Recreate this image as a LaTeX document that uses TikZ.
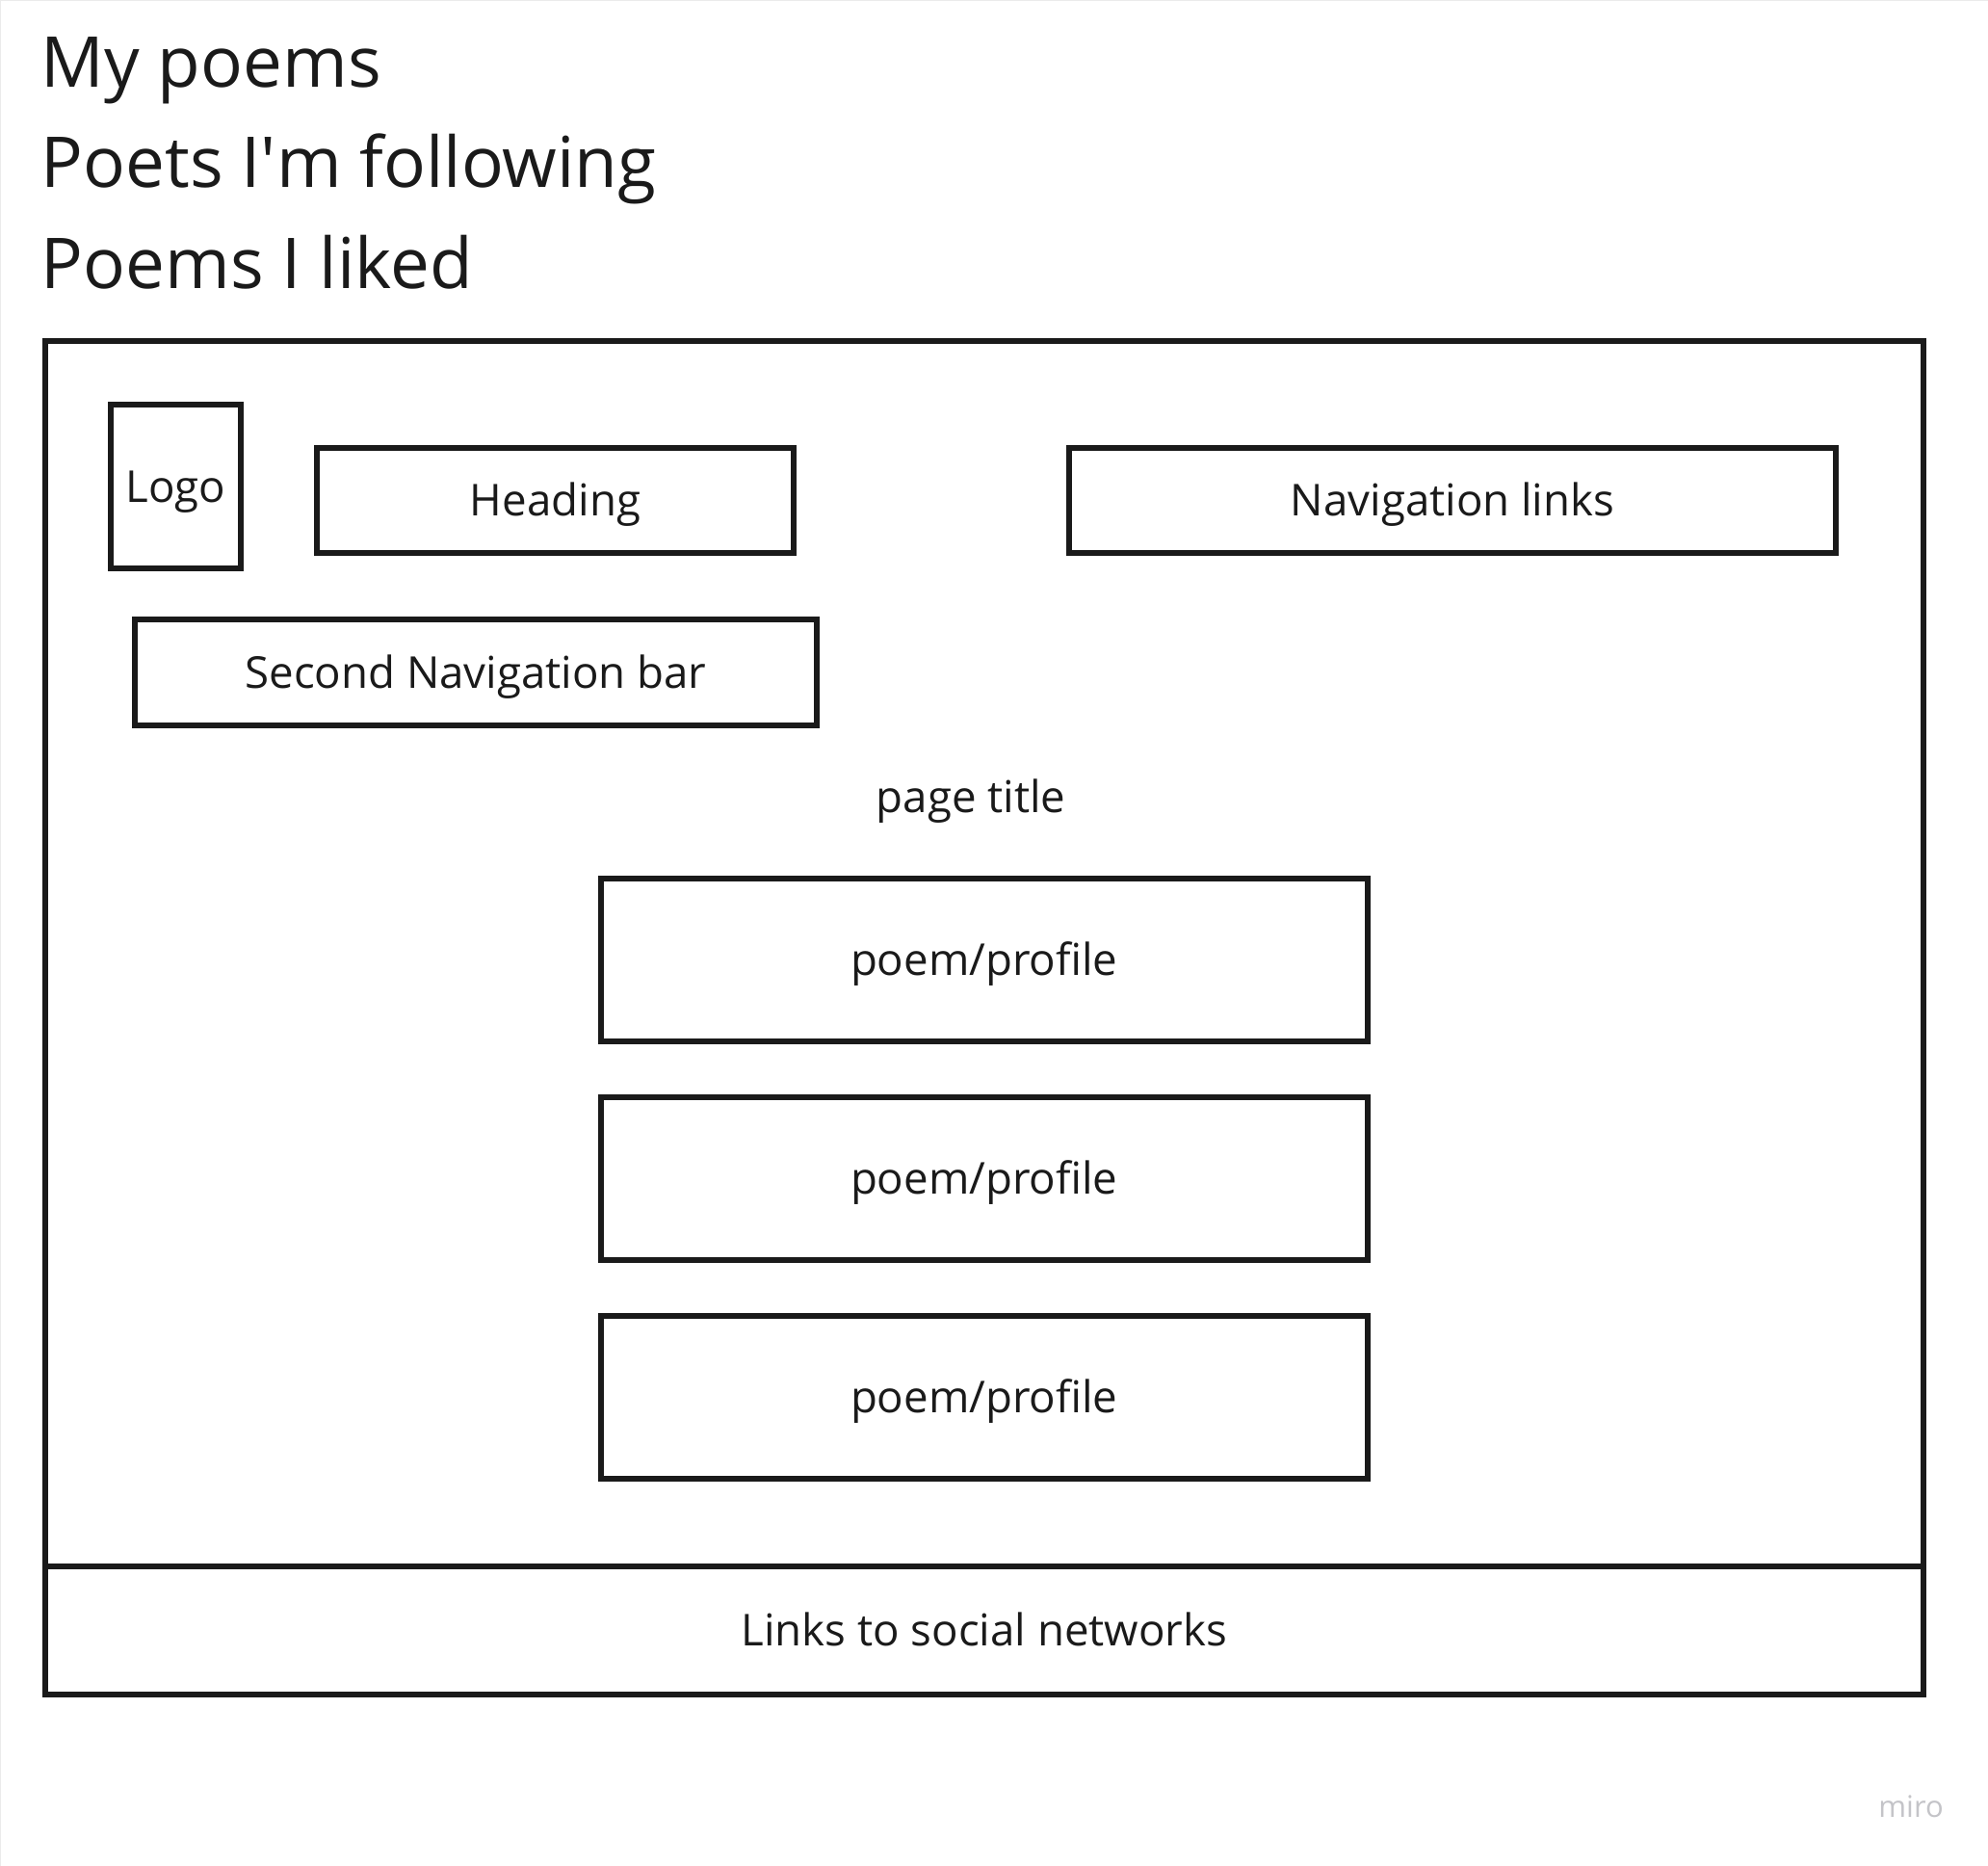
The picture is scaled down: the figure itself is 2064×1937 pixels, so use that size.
\documentclass[tikz,border=0pt]{standalone}
\usepackage{fontspec}
\setmainfont{Open Sans}
\definecolor{ink}{HTML}{1A1A1A}
\definecolor{edgegray}{HTML}{EBEBEB}
\definecolor{miroGray}{HTML}{C4C4C8}
\begin{document}
\begin{tikzpicture}[x=1pt,y=-1pt,
  box/.style={draw=ink, line width=6pt, rectangle, inner sep=0pt, outer sep=0pt,
    font=\fontsize{45.6}{54}\selectfont, text=ink, text height=32.5pt, text depth=0pt, align=center},
  titletext/.style={anchor=base west, inner sep=0pt, font=\fontsize{72.8}{88}\selectfont, text=ink},
  plaintext/.style={anchor=base, inner sep=0pt, font=\fontsize{45.6}{54}\selectfont, text=ink}]
\fill[white] (0,0) rectangle (2064,1937);
\useasboundingbox (0,0) rectangle (2064,1937);
\draw[edgegray, line width=2.5pt] (0,1937) -- (0,0) -- (2064,0);

% menu titles
\node[titletext] (t1) at (42.5,91) {My poems};
\node[titletext] (t2) at (42.5,194.5) {Poets I\textquotesingle m following};
\node[titletext] (t3) at (42.5,299.5) {Poems I liked};

% page frame and footer
\node[box, minimum width=1950.5pt, minimum height=1272pt] (page) at (1021.75,990) {};
\node[box, minimum width=1950.5pt, minimum height=133pt] (footer) at (1021.75,1692.5) {Links to social networks};

% header
\node[box, minimum width=135pt, minimum height=170pt] (logo) at (182.5,505) {Logo};
\node[box, minimum width=495pt, minimum height=109pt] (heading) at (576.5,519.5) {Heading};
\node[box, minimum width=796pt, minimum height=109pt] (nav) at (1508,519.5) {Navigation links};
\node[box, minimum width=708.5pt, minimum height=110pt] (nav2) at (494,698) {Second Navigation bar};

% content
\node[plaintext] (ptitle) at (1008,843) {page title};
\node[box, minimum width=796.5pt, minimum height=169pt] (p1) at (1021.75,996.5) {poem/profile};
\node[box, minimum width=796.5pt, minimum height=169pt] (p2) at (1021.75,1223.5) {poem/profile};
\node[box, minimum width=796.5pt, minimum height=169pt] (p3) at (1021.75,1450) {poem/profile};

% watermark
\node[anchor=base east, inner sep=0pt, font=\fontsize{31}{36}\selectfont, text=miroGray] (miro) at (2018,1886) {miro};
\end{tikzpicture}
\end{document}
